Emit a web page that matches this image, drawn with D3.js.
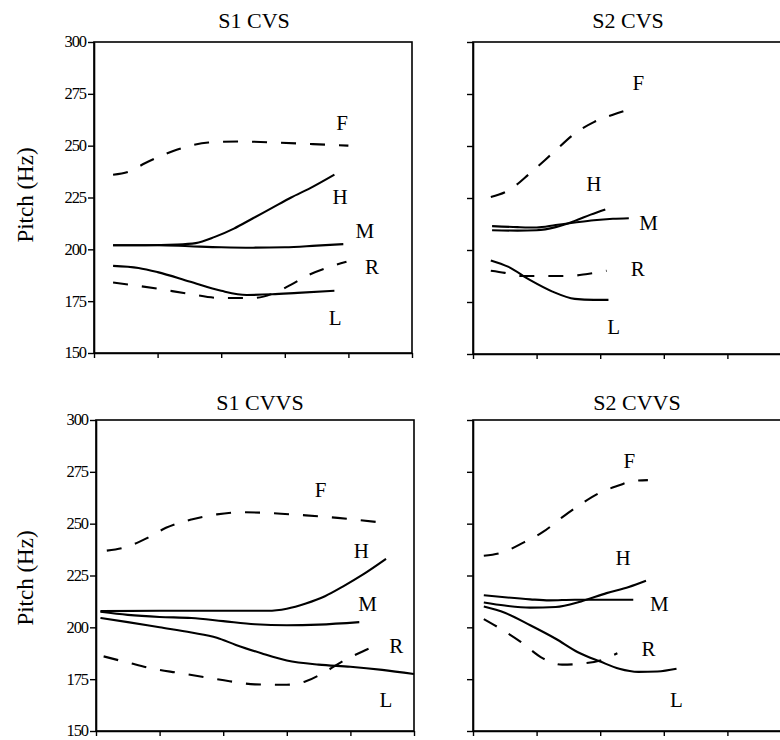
<!DOCTYPE html>
<html>
<head>
<meta charset="utf-8">
<script src="https://cdn.jsdelivr.net/npm/d3@7/dist/d3.min.js"></script>
<style>
  html, body { margin: 0; padding: 0; background: #fff; }
  svg { display: block; }
</style>
</head>
<body>
<script>
// ---------- DATA (time position, pitch in Hz) ----------
const panelTitles = ["S1 CVS", "S2 CVS", "S1 CVVS", "S2 CVVS"];
const toneNames = ["F", "H", "M", "R", "L"];
const dashedTones = ["F", "R"];
const yTickValues = [150, 175, 200, 225, 250, 275, 300];
const xTickValues = [0, 1, 2, 3, 4, 5];

// S1 CVS
const s1cvsF = [[0.3,236],[0.55,237.5],[0.8,241.5],[1.05,245],[1.3,248],[1.55,250.3],[1.8,251.5],[2.3,252],[2.87,251.5],[3.4,250.8],[4.0,250]];
const s1cvsH = [[0.3,202],[0.8,202],[1.3,202.3],[1.6,203],[1.9,206],[2.2,210],[2.5,215],[2.8,220],[3.1,225],[3.4,229.5],[3.78,236]];
const s1cvsM = [[0.3,202],[1.0,202],[1.5,201.5],[2.0,201],[2.5,200.8],[3.0,201],[3.5,201.8],[3.92,202.5]];
const s1cvsR = [[0.3,184],[1.0,181],[1.5,178.5],[2.0,176.5],[2.5,176.5],[2.8,178.5],[3.1,183],[3.4,188],[3.7,191.5],[3.97,194]];
const s1cvsL = [[0.3,192],[0.7,191],[1.0,189],[1.5,184.5],[2.0,180],[2.4,178],[2.8,178.3],[3.2,179],[3.78,180]];

// S2 CVS
const s2cvsF = [[0.28,225.5],[0.55,228.5],[0.9,237],[1.25,246.5],[1.6,256],[1.9,261.5],[2.2,265],[2.5,268]];
const s2cvsH = [[0.3,209.5],[0.7,209.3],[1.0,209.5],[1.3,211],[1.6,214],[1.85,217],[2.08,219.5]];
const s2cvsM = [[0.3,211.5],[0.7,211],[1.0,210.8],[1.3,212],[1.6,213.2],[1.9,214.3],[2.2,215],[2.45,215.3]];
const s2cvsR = [[0.28,190],[0.5,189],[0.75,187.5],[1.1,187.5],[1.5,187.5],[1.8,188.5],[2.1,190]];
const s2cvsL = [[0.28,195],[0.55,192],[0.9,185.5],[1.25,180],[1.6,176.5],[1.9,176],[2.13,176]];

// S1 CVVS
const s1cvvsF = [[0.17,237],[0.5,239],[0.8,243],[1.1,248],[1.5,252],[1.9,254.5],[2.3,255.5],[2.8,255],[3.3,254],[3.8,252.8],[4.5,250.5]];
const s1cvvsH = [[0.07,207.8],[1.0,208],[2.0,208],[2.7,208],[3.0,209],[3.3,211.5],[3.6,215],[3.9,220],[4.2,225.5],[4.56,233]];
const s1cvvsM = [[0.07,207.5],[0.5,206],[1.0,205],[1.5,204.5],[2.0,203],[2.5,201.5],[3.0,201],[3.5,201.3],[4.14,202.5]];
const s1cvvsR = [[0.12,186],[0.5,183],[0.9,180],[1.3,178],[1.7,176],[2.1,174],[2.5,172.5],[3.0,172.3],[3.3,174],[3.6,178.5],[3.9,184],[4.2,188.5],[4.43,191.5]];
const s1cvvsL = [[0.07,204.5],[0.5,202.5],[1.0,200],[1.5,197.5],[1.9,195],[2.2,191.5],[2.6,187.5],[3.0,184],[3.5,182],[4.0,181],[4.5,179.5],[5.0,177.5]];

// S2 CVVS
const s2cvvsF = [[0.17,234.5],[0.45,236],[0.8,241],[1.1,246],[1.4,253],[1.7,259.5],[2.0,265],[2.3,268.5],[2.5,270.5],[2.75,271]];
const s2cvvsH = [[0.17,212],[0.5,210.5],[0.9,209.5],[1.3,209.8],[1.7,212.5],[2.1,216.5],[2.45,219.5],[2.72,222.5]];
const s2cvvsM = [[0.17,215.5],[0.5,214.5],[0.9,213.5],[1.2,213],[1.6,213.3],[2.52,213.3]];
const s2cvvsR = [[0.17,204],[0.45,199],[0.75,193],[1.1,185],[1.4,182],[1.7,182.5],[2.0,184],[2.27,187.5]];
const s2cvvsL = [[0.17,210],[0.5,207],[0.9,201],[1.3,194.5],[1.65,188],[2.0,183.5],[2.3,180],[2.6,178.5],[2.9,178.7],[3.2,180]];

// ---------- LAYOUT ----------
const FONT = "Liberation Serif, Tinos, Times New Roman, DejaVu Serif, serif";
const panels = [
  { title: panelTitles[0], series: [s1cvsF, s1cvsH, s1cvsM, s1cvsR, s1cvsL],
    box: { x: 94, y: 42, w: 318, h: 311 }, titleX: 254, titleY: 28, yLabels: true, ylabY: 195,
    labelPos: [[3.9,261.4],[3.87,225.3],[4.26,209.3],[4.37,191.5],[3.79,166.9]] },
  { title: panelTitles[1], series: [s2cvsF, s2cvsH, s2cvsM, s2cvsR, s2cvsL],
    box: { x: 473, y: 42, w: 318, h: 312 }, titleX: 628, titleY: 28, yLabels: false,
    labelPos: [[2.6,280.3],[1.9,232.2],[2.76,213],[2.59,191.3],[2.21,163]] },
  { title: panelTitles[2], series: [s1cvvsF, s1cvvsH, s1cvvsM, s1cvvsR, s1cvvsL],
    box: { x: 96, y: 420, w: 318, h: 311 }, titleX: 260, titleY: 410, yLabels: true, ylabY: 578,
    labelPos: [[3.53,266.4],[4.17,236.9],[4.27,211.3],[4.72,191.4],[4.56,165]] },
  { title: panelTitles[3], series: [s2cvvsF, s2cvvsH, s2cvvsM, s2cvvsR, s2cvvsL],
    box: { x: 473, y: 420, w: 318, h: 311 }, titleX: 637, titleY: 410, yLabels: false,
    labelPos: [[2.46,280.5],[2.36,233.7],[2.93,211.3],[2.76,189.8],[3.2,165]] }
];

const svg = d3.select("body").append("svg").attr("width", 780).attr("height", 740);

panels.forEach(p => {
  const b = p.box;
  const x = d3.scaleLinear().domain([0, 5]).range([b.x, b.x + b.w]);
  const y = d3.scaleLinear().domain([150, 300]).range([b.y + b.h, b.y]);
  const g = svg.append("g");

  // frame
  g.append("rect").attr("x", b.x).attr("y", b.y).attr("width", b.w).attr("height", b.h)
    .attr("fill", "none").attr("stroke", "#000").attr("stroke-width", 1.6);

  // y axis
  const ya = d3.axisLeft(y).tickValues(yTickValues).tickSize(6).tickSizeOuter(0).tickPadding(2)
    .tickFormat(p.yLabels ? d3.format("d") : () => "");
  const yg = g.append("g").attr("transform", `translate(${b.x},0)`).call(ya)
    .attr("font-family", FONT).attr("font-size", 16.5);
  yg.select(".domain").attr("stroke-width", 1.6);
  yg.selectAll(".tick line").attr("stroke-width", 1.4);
  yg.selectAll("text").attr("font-family", FONT).attr("font-size", 16.5)
    .attr("letter-spacing", "-1.1").attr("fill", "#000").attr("dy", "0.3em");

  // x axis
  const xa = d3.axisBottom(x).tickValues(xTickValues).tickSize(5).tickSizeOuter(0).tickFormat(() => "");
  const xg = g.append("g").attr("transform", `translate(0,${b.y + b.h})`).call(xa);
  xg.select(".domain").attr("stroke-width", 1.6);
  xg.selectAll(".tick line").attr("stroke-width", 1.4);

  // title
  g.append("text").attr("x", p.titleX).attr("y", p.titleY).attr("text-anchor", "middle")
    .attr("font-family", FONT).attr("font-size", 22).attr("fill", "#000").text(p.title);

  // y label
  if (p.yLabels) {
    g.append("text").attr("transform", `translate(33,${p.ylabY}) rotate(-90)`)
      .attr("text-anchor", "middle").attr("font-family", FONT).attr("font-size", 23)
      .attr("fill", "#000").text("Pitch (Hz)");
  }

  // curves
  const line = d3.line().x(d => x(d[0])).y(d => y(d[1])).curve(d3.curveMonotoneX);
  p.series.forEach((s, i) => {
    const dashed = dashedTones.includes(toneNames[i]);
    g.append("path").datum(s).attr("d", line)
      .attr("fill", "none").attr("stroke", "#000").attr("stroke-width", 2.1)
      .attr("stroke-dasharray", dashed ? "15,14" : null);
  });

  // tone labels
  p.labelPos.forEach((lp, i) => {
    g.append("text").attr("x", x(lp[0])).attr("y", y(lp[1]) + 7.5)
      .attr("text-anchor", "middle").attr("font-family", FONT).attr("font-size", 21)
      .attr("fill", "#000").text(toneNames[i]);
  });
});
</script>
</body>
</html>
